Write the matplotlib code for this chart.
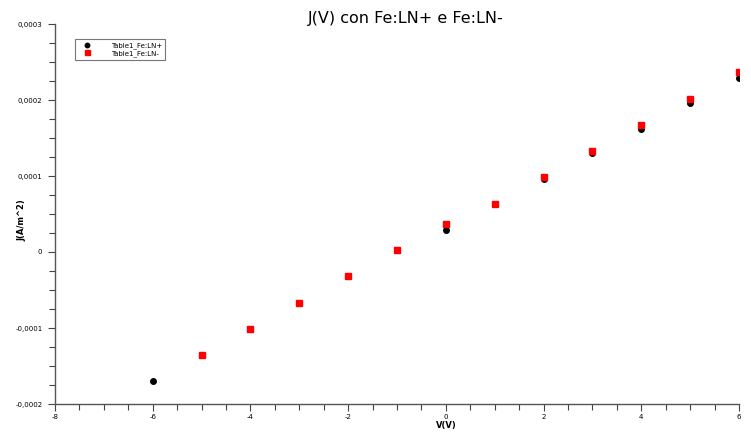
import numpy as np
import matplotlib.pyplot as plt
from matplotlib.ticker import MultipleLocator, FuncFormatter

plt.rcParams['axes.unicode_minus'] = False

volts = [-6, -5, -4, -3, -2, -1, 0, 1, 2, 3, 4, 5, 6]
j_plus = [-1.70e-4, -1.355e-4, -1.01e-4, -0.67e-4, -0.32e-4, 0.03e-4, 0.29e-4,
          0.63e-4, 0.96e-4, 1.30e-4, 1.625e-4, 1.96e-4, 2.29e-4]
volts_minus = [-5, -4, -3, -2, -1, 0, 1, 2, 3, 4, 5, 6]
j_minus = [-1.355e-4, -1.01e-4, -0.67e-4, -0.32e-4, 0.03e-4, 0.37e-4,
           0.63e-4, 0.99e-4, 1.33e-4, 1.67e-4, 2.01e-4, 2.37e-4]

fig = plt.figure(figsize=(7.51, 4.32), dpi=100)
ax = fig.add_axes([55/751, 28/432, 684/751, 380/432])

ax.plot(volts, j_plus, 'o', color='black', markersize=4, label='Table1_Fe:LN+')
ax.plot(volts_minus, j_minus, 's', color='red', markersize=4.5, label='Table1_Fe:LN-')

ax.set_xlim(-8, 6)
ax.set_ylim(-0.0002, 0.0003)
ax.spines['top'].set_visible(False)
ax.spines['right'].set_visible(False)
for s in ['left', 'bottom']:
    ax.spines[s].set_color('#555555')
    ax.spines[s].set_linewidth(1)

ax.xaxis.set_major_locator(MultipleLocator(2))
ax.xaxis.set_minor_locator(MultipleLocator(0.5))
ax.yaxis.set_major_locator(MultipleLocator(0.0001))
ax.yaxis.set_minor_locator(MultipleLocator(0.000025))

def yfmt(v, pos):
    if abs(v) < 1e-12:
        return '0'
    return ('%.4f' % v).replace('.', ',')

ax.yaxis.set_major_formatter(FuncFormatter(yfmt))
ax.tick_params(which='major', length=5, width=0.8, color='#444444', labelsize=5, pad=4)
ax.tick_params(axis='x', which='major', pad=2)
ax.tick_params(which='minor', length=4, width=0.8, color='#444444')

ax.set_xlabel('V(V)', fontsize=6, fontweight='bold')
ax.xaxis.set_label_coords(0.572, -0.045)
ax.set_ylabel('J(A/m^2)', fontsize=6, fontweight='bold')
ax.yaxis.set_label_coords(-0.041, 0.484)
fig.suptitle('J(V) con Fe:LN+ e Fe:LN-', fontsize=11.5, x=0.54, y=0.975)

leg = ax.legend(loc='upper left', bbox_to_anchor=(0.024, 0.97), fontsize=5,
                frameon=True, fancybox=False, edgecolor='#555555',
                handletextpad=2.2, borderpad=0.45, labelspacing=0.15,
                markerscale=0.8, handlelength=2.5)
leg.get_frame().set_linewidth(0.8)

fig.savefig('out.png', dpi=100)
